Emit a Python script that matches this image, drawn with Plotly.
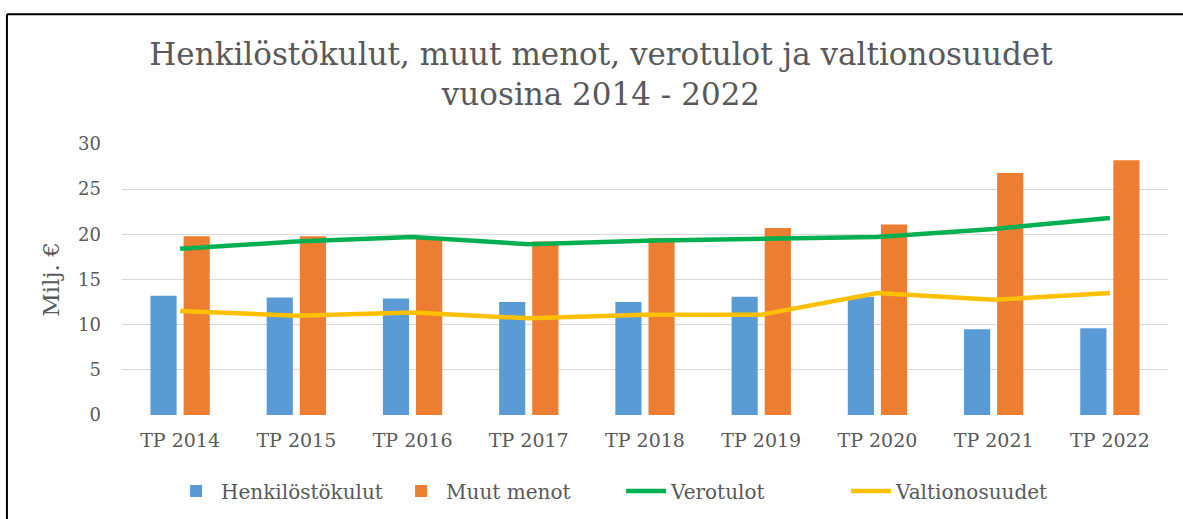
import plotly.graph_objects as go

categories = ["TP 2014", "TP 2015", "TP 2016", "TP 2017", "TP 2018",
              "TP 2019", "TP 2020", "TP 2021", "TP 2022"]
henkilostokulut = [13.2, 13.0, 12.9, 12.5, 12.5, 13.1, 13.1, 9.5, 9.6]
muut_menot = [19.8, 19.8, 19.6, 19.2, 19.6, 20.7, 21.1, 26.8, 28.2]
verotulot = [18.4, 19.2, 19.7, 18.9, 19.3, 19.5, 19.7, 20.6, 21.8]
valtionosuudet = [11.5, 11.0, 11.35, 10.7, 11.1, 11.1, 13.5, 12.75, 13.5]
y_ticks = [0, 5, 10, 15, 20, 25, 30]

FONT = "DejaVu Serif"
TXT = "#595959"

fig = go.Figure()
fig.add_trace(go.Bar(x=categories, y=henkilostokulut, name="Henkilöstökulut",
                     marker=dict(color="#5B9BD5", line=dict(width=0))))
fig.add_trace(go.Bar(x=categories, y=muut_menot, name="Muut menot",
                     marker=dict(color="#ED7D31", line=dict(width=0))))
fig.add_trace(go.Scatter(x=categories, y=verotulot, name="Verotulot", mode="lines",
                         line=dict(color="#00B050", width=4.5)))
fig.add_trace(go.Scatter(x=categories, y=valtionosuudet, name="Valtionosuudet", mode="lines",
                         line=dict(color="#FFC000", width=4.5)))

fig.update_layout(
    width=1183, height=519,
    margin=dict(l=122, r=15, t=144, b=104, autoexpand=False),
    paper_bgcolor="white", plot_bgcolor="white",
    barmode="group", bargap=0.43, bargroupgap=0.21,
    font=dict(family=FONT, color=TXT, size=18),
    title=dict(text="Henkilöstökulut, muut menot, verotulot ja valtionosuudet<br>vuosina 2014 - 2022",
               x=0.508, xanchor="center", y=0.875, yanchor="top",
               font=dict(family=FONT, size=31, color=TXT)),
    showlegend=True,
    legend=dict(orientation="h", xref="container", yref="container",
                x=0.525, xanchor="center", y=1 - 491 / 519, yanchor="middle",
                itemwidth=40, entrywidthmode="pixels", entrywidth=170,
                font=dict(family=FONT, size=20, color=TXT), traceorder="normal"),
    xaxis=dict(showgrid=False, showline=False, ticks="", tickfont=dict(size=19, color=TXT),
               ticklabelstandoff=12, automargin=False),
    yaxis=dict(range=[0, 30], tickvals=y_ticks, showgrid=True, gridcolor="#D9D9D9",
               gridwidth=1.3, zeroline=False, showline=False, ticks="", automargin=False,
               tickfont=dict(size=18, color=TXT), ticklabelstandoff=20,
               title=dict(text="Milj. €", font=dict(size=23, color=TXT), standoff=12)),
    shapes=[
        dict(type="line", xref="paper", yref="paper", x0=-0.11, x1=1.1, y0=1.479, y1=1.479,
             line=dict(color="black", width=2)),
        dict(type="line", xref="paper", yref="paper", x0=-0.11, x1=-0.11, y0=1.479, y1=-0.5,
             line=dict(color="black", width=2)),
    ],
)

fig.write_html("out.html", config={"displayModeBar": False},
               post_script="document.body.style.margin='0';")
